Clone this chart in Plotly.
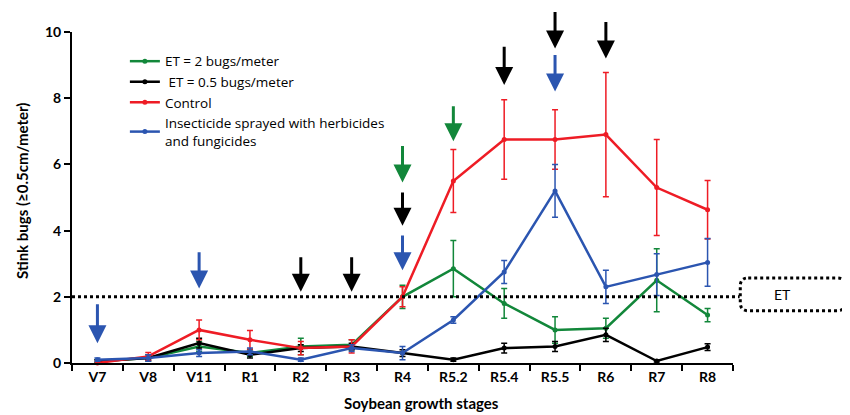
import plotly.graph_objects as go

stages = ["V7", "V8", "V11", "R1", "R2", "R3", "R4", "R5.2", "R5.4", "R5.5", "R6", "R7", "R8"]

et2 = [0.05, 0.15, 0.5, 0.3, 0.5, 0.55, 2.0, 2.85, 1.8, 1.0, 1.05, 2.5, 1.45]
et2_err = [0.05, 0.1, 0.15, 0.1, 0.25, 0.15, 0.35, 0.85, 0.45, 0.4, 0.3, 0.95, 0.2]

et05 = [0.05, 0.15, 0.6, 0.25, 0.45, 0.5, 0.3, 0.1, 0.45, 0.5, 0.85, 0.06, 0.48]
et05_err = [0.05, 0.05, 0.15, 0.1, 0.1, 0.1, 0.1, 0.05, 0.15, 0.15, 0.2, 0.03, 0.1]

control = [0.0, 0.2, 1.0, 0.7, 0.45, 0.5, 2.0, 5.5, 6.75, 6.75, 6.9, 5.3, 4.63]
control_err = [0.05, 0.12, 0.3, 0.28, 0.2, 0.2, 0.3, 0.95, 1.2, 0.9, 1.88, 1.45, 0.88]

insect = [0.1, 0.15, 0.3, 0.35, 0.1, 0.45, 0.3, 1.3, 2.75, 5.2, 2.3, 2.67, 3.04]
insect_err = [0.05, 0.1, 0.1, 0.1, 0.05, 0.1, 0.2, 0.1, 0.35, 0.8, 0.5, 0.63, 0.72]

et_threshold = 2
yticks = [0, 2, 4, 6, 8, 10]

# spray events: (stage, series colour key)
spray_events = [
    ("V7", "blue"), ("V11", "blue"), ("R2", "black"), ("R3", "black"),
    ("R4", "green"), ("R4", "black"), ("R4", "blue"), ("R5.2", "green"),
    ("R5.4", "black"), ("R5.5", "black"), ("R5.5", "blue"), ("R6", "black"),
]
# arrow vertical placement (tail, head) in axis units
arrow_y = [
    (1.82, 0.6), (3.39, 2.25), (3.24, 2.15), (3.24, 2.15),
    (6.6, 5.45), (5.2, 4.15), (3.9, 2.8), (7.8, 6.7),
    (9.6, 8.4), (10.65, 9.5), (9.35, 8.2), (10.35, 9.2),
]

colors = {"green": "#12873a", "black": "#000000", "red": "#ee1c25", "blue": "#2b55b0"}
FONT = "Lato"

fig = go.Figure()

series = [
    ("ET = 2 bugs/meter", et2, et2_err, colors["green"]),
    (" ET = 0.5 bugs/meter", et05, et05_err, colors["black"]),
    ("Control", control, control_err, colors["red"]),
    ("Insecticide sprayed with herbicides<br>and fungicides", insect, insect_err, colors["blue"]),
]
for name, vals, errs, col in series:
    fig.add_trace(go.Scatter(
        x=stages, y=vals, name=name, mode="lines+markers",
        line=dict(color=col, width=2.5),
        marker=dict(color=col, size=5),
        error_y=dict(type="data", array=errs, visible=True, color=col, thickness=1.5, width=3),
        cliponaxis=False,
    ))

# ET threshold line
fig.add_shape(type="line", xref="paper", yref="y", x0=0, x1=1.01, y0=et_threshold, y1=et_threshold,
              line=dict(color="black", width=3, dash="dot"))
# ET rounded box
x0, x1, y0, y1 = 1.011, 1.17, 1.58, 2.57
rx, ry = 0.012, 0.25
path = (f"M {x0+rx},{y1} L {x1-rx},{y1} Q {x1},{y1} {x1},{y1-ry} L {x1},{y0+ry} "
        f"Q {x1},{y0} {x1-rx},{y0} L {x0+rx},{y0} Q {x0},{y0} {x0},{y0+ry} "
        f"L {x0},{y1-ry} Q {x0},{y1} {x0+rx},{y1} Z")
fig.add_shape(type="path", xref="paper", yref="y", path=path,
              line=dict(color="black", width=3, dash="dot"))
fig.add_annotation(xref="paper", yref="y", x=(x0 + x1) / 2, y=(y0 + y1) / 2, text="ET",
                   showarrow=False, font=dict(family=FONT, size=14, color="black"))

# spray arrows
for (stage, ckey), (yt, yh) in zip(spray_events, arrow_y):
    xi = stages.index(stage)
    fig.add_annotation(x=xi, y=yh, ax=xi, ay=yt, xref="x", yref="y", axref="x", ayref="y",
                       showarrow=True, arrowhead=2, arrowsize=1.2, arrowwidth=3,
                       arrowcolor=colors[ckey], text="")

# axis titles
fig.add_annotation(xref="paper", yref="paper", x=0.528, y=-0.121, xanchor="center", yanchor="middle",
                   text="<b>Soybean growth stages</b>", showarrow=False,
                   font=dict(family=FONT, size=15, color="black"))
fig.add_annotation(xref="paper", yref="paper", x=-0.0756, y=0.52, xanchor="center", yanchor="middle",
                   text="<b>Stink bugs (≥0.5cm/meter)</b>", showarrow=False, textangle=-90,
                   font=dict(family=FONT, size=15, color="black"))

fig.update_layout(
    width=842, height=407,
    margin=dict(l=64, r=117, t=24, b=52, autoexpand=False),
    paper_bgcolor="white", plot_bgcolor="white",
    font=dict(family=FONT, size=13, color="black"),
    showlegend=True,
    legend=dict(x=0.08, y=0.958, xanchor="left", yanchor="top",
                bgcolor="rgba(0,0,0,0)", font=dict(family="Open Sans", size=13.5),
                tracegroupgap=0, itemwidth=30),
    xaxis=dict(type="category", range=[-0.5, 12.5], showline=True, linecolor="black", linewidth=2,
               ticks="outside", tickson="boundaries", ticklen=6, tickwidth=2, tickcolor="black",
               showgrid=False, zeroline=False, automargin=False,
               tickfont=dict(family=FONT, size=14, color="black", weight="bold")),
    yaxis=dict(range=[0, 10], tickvals=yticks, showline=True, linecolor="black", linewidth=2,
               ticks="outside", ticklen=6, tickwidth=2, tickcolor="black",
               showgrid=False, zeroline=False, automargin=False,
               tickfont=dict(family=FONT, size=14, color="black", weight="bold")),
)

fig.write_html("out.html")
